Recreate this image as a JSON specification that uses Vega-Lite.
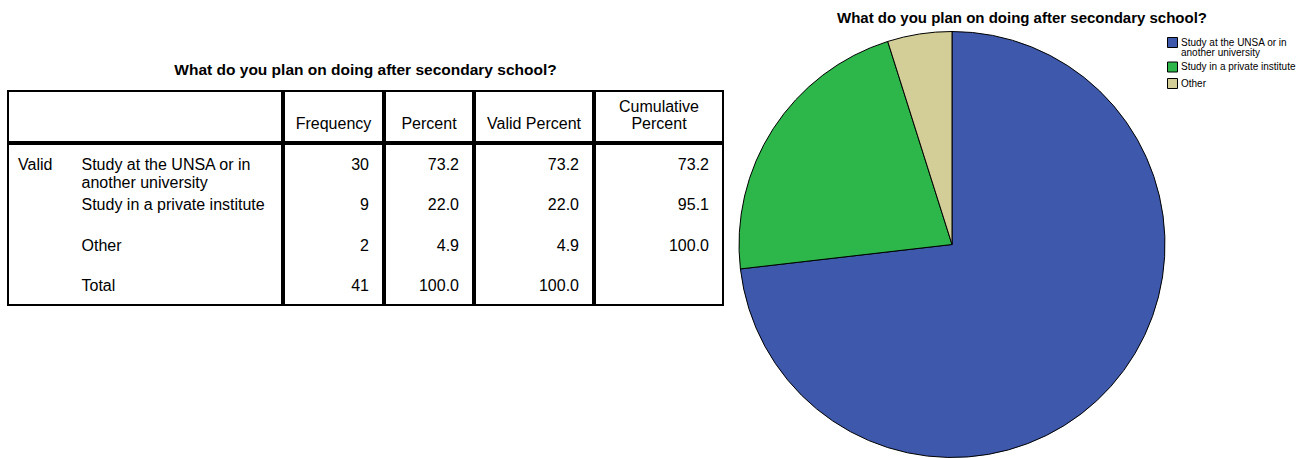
{
  "$schema": "https://vega.github.io/schema/vega-lite/v6.json",
  "background": "white",
  "padding": {"left": 7, "top": 10, "right": 5, "bottom": 0},
  "datasets": {
    "plans": [
      {"group": "Valid", "category": "Study at the UNSA or in\nanother university", "Frequency": 30, "Percent": 73.2, "Valid Percent": 73.2, "Cumulative Percent": 73.2},
      {"group": "Valid", "category": "Study in a private institute", "Frequency": 9, "Percent": 22.0, "Valid Percent": 22.0, "Cumulative Percent": 95.1},
      {"group": "Valid", "category": "Other", "Frequency": 2, "Percent": 4.9, "Valid Percent": 4.9, "Cumulative Percent": 100.0},
      {"group": "Valid", "category": "Total", "Frequency": 41, "Percent": 100.0, "Valid Percent": 100.0, "Cumulative Percent": null}
    ],
    "columns": [
      {"column": "Frequency"},
      {"column": "Percent"},
      {"column": "Valid Percent"},
      {"column": "Cumulative Percent"}
    ]
  },
  "config": {
    "view": {"stroke": "black", "strokeWidth": 2},
    "font": "Liberation Sans",
    "text": {"font": "Liberation Sans", "fontSize": 16, "color": "black"},
    "title": {"font": "Liberation Sans", "fontWeight": "bold", "color": "black"},
    "style": {"guide-label": {"lineHeight": 10}}
  },
  "spacing": 13,
  "hconcat": [
    {
      "title": {"text": "What do you plan on doing after secondary school?", "fontSize": 15.5, "offset": 12, "anchor": "middle"},
      "spacing": 0,
      "vconcat": [
        {
          "spacing": 0,
          "hconcat": [
            {"width": 274, "height": 51, "data": {"values": []}, "mark": {"type": "text"},
             "encoding": {
               "x": {"field": "column", "type": "nominal", "scale": {"type": "band", "paddingInner": 0, "paddingOuter": 0}, "axis": null},
               "y": {"field": "column", "type": "nominal", "scale": {"type": "band", "paddingInner": 0, "paddingOuter": 0}, "axis": null},
               "text": {"field": "column"}}},
            {"width": 99, "height": 51, "data": {"name": "columns"}, "transform": [{"filter": "datum.column == 'Frequency'"}],
             "mark": {"type": "text", "baseline": "bottom", "dy": -10},
             "encoding": {
               "x": {"field": "column", "type": "nominal", "scale": {"type": "band", "paddingInner": 0, "paddingOuter": 0}, "axis": null},
               "y": {"field": "column", "type": "nominal", "bandPosition": 1, "scale": {"type": "band", "paddingInner": 0, "paddingOuter": 0}, "axis": null},
               "text": {"field": "column"}}},
            {"width": 88, "height": 51, "data": {"name": "columns"}, "transform": [{"filter": "datum.column == 'Percent'"}],
             "mark": {"type": "text", "baseline": "bottom", "dy": -10},
             "encoding": {
               "x": {"field": "column", "type": "nominal", "scale": {"type": "band", "paddingInner": 0, "paddingOuter": 0}, "axis": null},
               "y": {"field": "column", "type": "nominal", "bandPosition": 1, "scale": {"type": "band", "paddingInner": 0, "paddingOuter": 0}, "axis": null},
               "text": {"field": "column"}}},
            {"width": 118, "height": 51, "data": {"name": "columns"}, "transform": [{"filter": "datum.column == 'Valid Percent'"}],
             "mark": {"type": "text", "baseline": "bottom", "dy": -10},
             "encoding": {
               "x": {"field": "column", "type": "nominal", "scale": {"type": "band", "paddingInner": 0, "paddingOuter": 0}, "axis": null},
               "y": {"field": "column", "type": "nominal", "bandPosition": 1, "scale": {"type": "band", "paddingInner": 0, "paddingOuter": 0}, "axis": null},
               "text": {"field": "column"}}},
            {"width": 128, "height": 51, "data": {"name": "columns"}, "transform": [{"filter": "datum.column == 'Cumulative Percent'"}],
             "mark": {"type": "text", "baseline": "bottom", "dy": -27, "lineBreak": " ", "lineHeight": 17},
             "encoding": {
               "x": {"field": "column", "type": "nominal", "scale": {"type": "band", "paddingInner": 0, "paddingOuter": 0}, "axis": null},
               "y": {"field": "column", "type": "nominal", "bandPosition": 1, "scale": {"type": "band", "paddingInner": 0, "paddingOuter": 0}, "axis": null},
               "text": {"field": "column"}}}
          ]
        },
        {
          "spacing": 0,
          "hconcat": [
            {
              "width": 274, "height": 161, "data": {"name": "plans"},
              "encoding": {
                "x": {"field": "group", "type": "nominal", "bandPosition": 0, "scale": {"type": "band", "paddingInner": 0, "paddingOuter": 0}, "axis": null},
                "y": {"field": "category", "type": "nominal", "sort": null, "bandPosition": 0, "scale": {"type": "band", "paddingInner": 0, "paddingOuter": 0}, "axis": null}
              },
              "layer": [
                {"transform": [{"filter": "datum.category == 'Study at the UNSA or in\\nanother university'"}],
                 "mark": {"type": "text", "align": "left", "baseline": "top", "dx": 10, "dy": 13},
                 "encoding": {"text": {"field": "group"}}},
                {"mark": {"type": "text", "align": "left", "baseline": "top", "dx": 73.5, "dy": 13, "lineBreak": "\n", "lineHeight": 18.4},
                 "encoding": {"text": {"field": "category"}}}
              ]
            },
            {
              "width": 99, "height": 161, "data": {"name": "plans"},
              "mark": {"type": "text", "align": "right", "baseline": "top", "dx": -14, "dy": 13},
              "encoding": {
                "x": {"field": "group", "type": "nominal", "bandPosition": 1, "scale": {"type": "band", "paddingInner": 0, "paddingOuter": 0}, "axis": null},
                "y": {"field": "category", "type": "nominal", "sort": null, "bandPosition": 0, "scale": {"type": "band", "paddingInner": 0, "paddingOuter": 0}, "axis": null},
                "text": {"field": "Frequency", "type": "quantitative", "format": "d"}
              }
            },
            {
              "width": 88, "height": 161, "data": {"name": "plans"},
              "mark": {"type": "text", "align": "right", "baseline": "top", "dx": -14, "dy": 13},
              "encoding": {
                "x": {"field": "group", "type": "nominal", "bandPosition": 1, "scale": {"type": "band", "paddingInner": 0, "paddingOuter": 0}, "axis": null},
                "y": {"field": "category", "type": "nominal", "sort": null, "bandPosition": 0, "scale": {"type": "band", "paddingInner": 0, "paddingOuter": 0}, "axis": null},
                "text": {"field": "Percent", "type": "quantitative", "format": ".1f"}
              }
            },
            {
              "width": 118, "height": 161, "data": {"name": "plans"},
              "mark": {"type": "text", "align": "right", "baseline": "top", "dx": -14, "dy": 13},
              "encoding": {
                "x": {"field": "group", "type": "nominal", "bandPosition": 1, "scale": {"type": "band", "paddingInner": 0, "paddingOuter": 0}, "axis": null},
                "y": {"field": "category", "type": "nominal", "sort": null, "bandPosition": 0, "scale": {"type": "band", "paddingInner": 0, "paddingOuter": 0}, "axis": null},
                "text": {"field": "Valid Percent", "type": "quantitative", "format": ".1f"}
              }
            },
            {
              "width": 128, "height": 161, "data": {"name": "plans"},
              "mark": {"type": "text", "align": "right", "baseline": "top", "dx": -14, "dy": 13},
              "encoding": {
                "x": {"field": "group", "type": "nominal", "bandPosition": 1, "scale": {"type": "band", "paddingInner": 0, "paddingOuter": 0}, "axis": null},
                "y": {"field": "category", "type": "nominal", "sort": null, "bandPosition": 0, "scale": {"type": "band", "paddingInner": 0, "paddingOuter": 0}, "axis": null},
                "text": {"condition": {"test": "datum['Cumulative Percent'] == null", "value": ""}, "field": "Cumulative Percent", "type": "quantitative", "format": ".1f"}
              }
            }
          ]
        }
      ]
    },
    {
      "width": 426,
      "height": 307,
      "view": {"stroke": null},
      "title": {"text": "What do you plan on doing after secondary school?", "fontSize": 15, "offset": 4, "dx": 70},
      "data": {"name": "plans"},
      "transform": [{"filter": "datum.category != 'Total'"}],
      "mark": {"type": "arc", "outerRadius": 213, "stroke": "black", "strokeWidth": 1},
      "encoding": {
        "theta": {"field": "Frequency", "type": "quantitative", "stack": true},
        "order": {"field": "Frequency", "type": "quantitative", "sort": "descending"},
        "color": {
          "field": "category", "type": "nominal", "sort": null,
          "scale": {"range": ["#3E58AC", "#2DB74A", "#D3CE97"]},
          "legend": {
            "orient": "none", "legendX": 1159, "legendY": -54, "title": null, "padding": 0,
            "symbolType": "square", "symbolSize": 100, "symbolStrokeColor": "black", "symbolStrokeWidth": 1, "symbolOpacity": 1,
            "labelFont": "Liberation Sans", "labelFontSize": 10, "labelColor": "black", "labelOffset": 3, "rowPadding": 1.5,
            "labelExpr": "split(datum.label, '\\n')"
          }
        }
      }
    }
  ]
}
